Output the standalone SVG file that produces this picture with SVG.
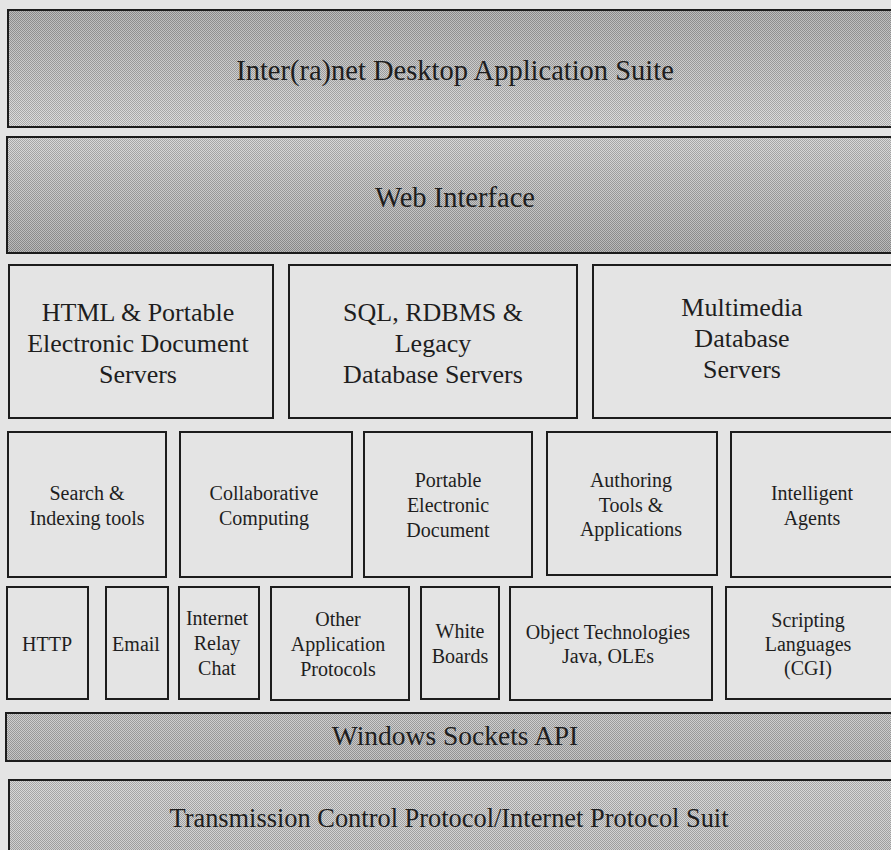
<svg xmlns="http://www.w3.org/2000/svg" width="891" height="850" viewBox="0 0 891 850">
  <defs>
    <!-- halftone dot screen laid over the shaded layers -->
    <pattern id="screen" x="0" y="0" width="2" height="2" patternUnits="userSpaceOnUse">
      <rect x="0" y="0" width="1" height="1" fill="#000" fill-opacity="0.2"/>
      <rect x="1" y="1" width="1" height="1" fill="#000" fill-opacity="0.2"/>
      <rect x="1" y="0" width="1" height="1" fill="#fff" fill-opacity="0.18"/>
      <rect x="0" y="1" width="1" height="1" fill="#fff" fill-opacity="0.18"/>
    </pattern>
    <linearGradient id="gSuite" x1="0" y1="0" x2="0" y2="1">
      <stop offset="0" stop-color="#acacac"/>
      <stop offset="1" stop-color="#d6d6d6"/>
    </linearGradient>
    <linearGradient id="gWeb" x1="0" y1="0" x2="0" y2="1">
      <stop offset="0" stop-color="#d2d2d2"/>
      <stop offset="1" stop-color="#a8a8a8"/>
    </linearGradient>
    <linearGradient id="gSock" x1="0" y1="0" x2="0" y2="1">
      <stop offset="0" stop-color="#c6c6c6"/>
      <stop offset="1" stop-color="#b6b6b6"/>
    </linearGradient>
    <linearGradient id="gTcp" x1="0" y1="0" x2="0" y2="1">
      <stop offset="0" stop-color="#d0d0d0"/>
      <stop offset="1" stop-color="#c4c4c4"/>
    </linearGradient>
    <style>
      .box { fill: #e4e4e4; stroke: #1c1c1c; stroke-width: 2; }
      .edge { fill: none; stroke: #1c1c1c; stroke-width: 2; }
      .dots { fill: url(#screen); stroke: none; }
      text { font-family: "Liberation Serif", "Times New Roman", serif; fill: #1e1e1e; text-anchor: middle; }
      .big { font-size: 28.5px; }
      .mid { font-size: 26px; }
      .small { font-size: 20px; }
    </style>
  </defs>

  <rect x="0" y="0" width="891" height="850" fill="#e4e4e4"/>

  <!-- top layer -->
  <g id="suite">
    <rect x="8" y="10" width="886" height="117" fill="url(#gSuite)"/>
    <rect class="dots" x="8" y="10" width="886" height="117"/>
    <rect class="edge" x="8" y="10" width="886" height="117"/>
    <text class="big" x="455" y="80">Inter(ra)net Desktop Application Suite</text>
  </g>

  <g id="web-interface">
    <rect x="7" y="137" width="887" height="116" fill="url(#gWeb)"/>
    <rect class="dots" x="7" y="137" width="887" height="116"/>
    <rect class="edge" x="7" y="137" width="887" height="116"/>
    <text class="big" x="455" y="207">Web Interface</text>
  </g>

  <!-- server row -->
  <g id="html-servers">
    <rect class="box" x="9" y="265" width="264" height="153"/>
    <text class="mid" x="138" y="321">HTML &amp; Portable</text>
    <text class="mid" x="138" y="352">Electronic Document</text>
    <text class="mid" x="138" y="383">Servers</text>
  </g>
  <g id="sql-servers">
    <rect class="box" x="289" y="265" width="288" height="153"/>
    <text class="mid" x="433" y="321">SQL, RDBMS &amp;</text>
    <text class="mid" x="433" y="352">Legacy</text>
    <text class="mid" x="433" y="383">Database Servers</text>
  </g>
  <g id="multimedia-servers">
    <rect class="box" x="593" y="265" width="300" height="153"/>
    <text class="mid" x="742" y="316">Multimedia</text>
    <text class="mid" x="742" y="347">Database</text>
    <text class="mid" x="742" y="378">Servers</text>
  </g>

  <!-- tools row -->
  <g id="search">
    <rect class="box" x="8" y="432" width="158" height="145"/>
    <text class="small" x="87" y="500">Search &amp;</text>
    <text class="small" x="87" y="525">Indexing tools</text>
  </g>
  <g id="collaborative">
    <rect class="box" x="180" y="432" width="172" height="145"/>
    <text class="small" x="264" y="500">Collaborative</text>
    <text class="small" x="264" y="525">Computing</text>
  </g>
  <g id="portable-document">
    <rect class="box" x="364" y="432" width="168" height="145"/>
    <text class="small" x="448" y="487">Portable</text>
    <text class="small" x="448" y="512">Electronic</text>
    <text class="small" x="448" y="537">Document</text>
  </g>
  <g id="authoring">
    <rect class="box" x="547" y="432" width="170" height="143"/>
    <text class="small" x="631" y="487">Authoring</text>
    <text class="small" x="631" y="512">Tools &amp;</text>
    <text class="small" x="631" y="536">Applications</text>
  </g>
  <g id="agents">
    <rect class="box" x="731" y="432" width="162" height="145"/>
    <text class="small" x="812" y="500">Intelligent</text>
    <text class="small" x="812" y="525">Agents</text>
  </g>

  <!-- protocol row -->
  <g id="http">
    <rect class="box" x="7" y="587" width="81" height="112"/>
    <text class="small" x="47" y="651">HTTP</text>
  </g>
  <g id="email">
    <rect class="box" x="106" y="587" width="62" height="112"/>
    <text class="small" x="136" y="651">Email</text>
  </g>
  <g id="irc">
    <rect class="box" x="179" y="587" width="80" height="112"/>
    <text class="small" x="217" y="625">Internet</text>
    <text class="small" x="217" y="650">Relay</text>
    <text class="small" x="217" y="675">Chat</text>
  </g>
  <g id="other-protocols">
    <rect class="box" x="271" y="587" width="138" height="113"/>
    <text class="small" x="338" y="626">Other</text>
    <text class="small" x="338" y="651">Application</text>
    <text class="small" x="338" y="676">Protocols</text>
  </g>
  <g id="white-boards">
    <rect class="box" x="421" y="587" width="78" height="112"/>
    <text class="small" x="460" y="638">White</text>
    <text class="small" x="460" y="663">Boards</text>
  </g>
  <g id="object-tech">
    <rect class="box" x="510" y="587" width="202" height="113"/>
    <text class="small" x="608" y="639">Object Technologies</text>
    <text class="small" x="608" y="663">Java, OLEs</text>
  </g>
  <g id="scripting">
    <rect class="box" x="726" y="587" width="167" height="112"/>
    <text class="small" x="808" y="627">Scripting</text>
    <text class="small" x="808" y="651">Languages</text>
    <text class="small" x="808" y="675">(CGI)</text>
  </g>

  <!-- transport layers -->
  <g id="winsock">
    <rect x="6" y="713" width="888" height="48" fill="url(#gSock)"/>
    <rect class="dots" x="6" y="713" width="888" height="48"/>
    <rect class="edge" x="6" y="713" width="888" height="48"/>
    <text class="mid" x="455" y="745" style="font-size:27.5px">Windows Sockets API</text>
  </g>

  <g id="tcp-ip">
    <rect x="9" y="780" width="885" height="80" fill="url(#gTcp)"/>
    <rect class="dots" x="9" y="780" width="885" height="80"/>
    <rect class="edge" x="9" y="780" width="885" height="80"/>
    <text class="mid" x="449" y="827" style="font-size:26.4px">Transmission Control Protocol/Internet Protocol Suit</text>
  </g>

  <g id="connectors"/>
</svg>
